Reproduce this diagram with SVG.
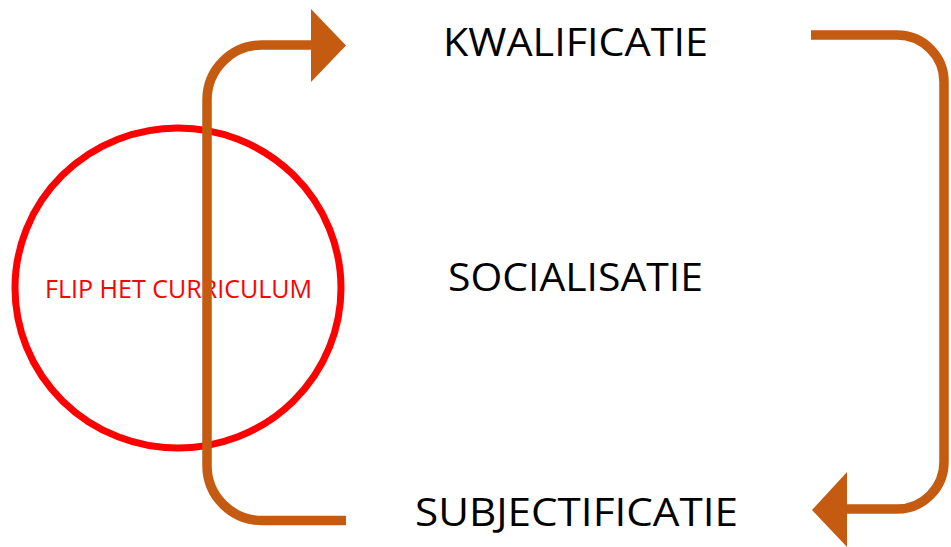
<svg xmlns="http://www.w3.org/2000/svg" width="951" height="547" viewBox="0 0 951 547">
<style>
.lbl{font-family:"Open Sans","Liberation Sans",sans-serif;fill:#000;font-size:38px}
.conn{fill:none;stroke:#C55A11;stroke-width:9.5}
.head{fill:#C55A11;stroke:none}
</style>
<rect width="951" height="547" fill="#fff"/>
<g id="flip">
<ellipse cx="178" cy="288" rx="163" ry="160" fill="none" stroke="#FF0000" stroke-width="7"/>
<text x="45" y="298" font-family="'Open Sans','Liberation Sans',sans-serif" font-size="25" fill="#FF0000" textLength="267" lengthAdjust="spacingAndGlyphs">FLIP HET CURRICULUM</text>
</g>
<g id="connectors">
<path class="conn" d="M346 520.5 H262 A55 55 0 0 1 207 465.5 V100 A55 55 0 0 1 262 45 H313"/>
<polygon class="head" points="311,9 346,45.5 311,82"/>
<path class="conn" d="M811 35 H897 A47 47 0 0 1 944 82 V462 A47 47 0 0 1 897 509 H845"/>
<polygon class="head" points="847,472 812,510 847,547"/>
</g>
<g id="kwalificatie"><text class="lbl" x="443" y="56" textLength="265" lengthAdjust="spacingAndGlyphs">KWALIFICATIE</text></g>
<g id="socialisatie"><text class="lbl" x="448" y="291" textLength="255" lengthAdjust="spacingAndGlyphs">SOCIALISATIE</text></g>
<g id="subjectificatie"><text class="lbl" x="415" y="526" textLength="323" lengthAdjust="spacingAndGlyphs">SUBJECTIFICATIE</text></g>
</svg>
